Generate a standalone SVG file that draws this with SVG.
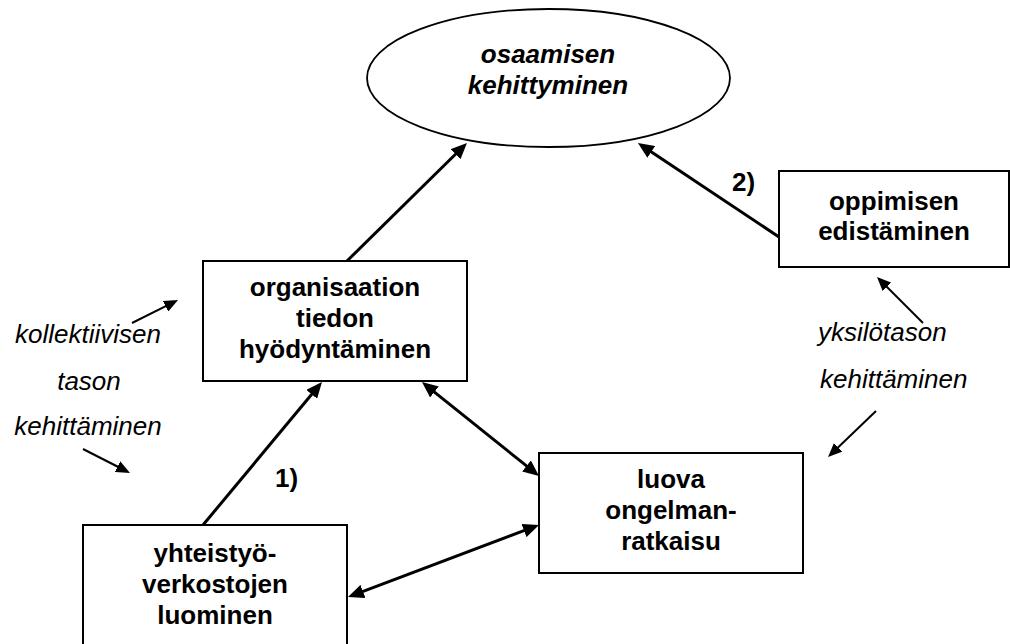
<svg xmlns="http://www.w3.org/2000/svg" width="1010" height="644" viewBox="0 0 1010 644">
  <defs>
    <style>
      .box { fill: #ffffff; stroke: #000000; stroke-width: 2; }
      .oval { fill: #ffffff; stroke: #000000; stroke-width: 1.8; }
      .lbl { font-family: "Liberation Sans", Arial, sans-serif; font-size: 26px; font-weight: bold; fill: #000000; text-anchor: middle; }
      .oval-lbl { font-style: italic; }
      .note { font-family: "Liberation Sans", Arial, sans-serif; font-size: 26px; font-style: italic; fill: #000000; }
      .num { font-family: "Liberation Sans", Arial, sans-serif; font-size: 26px; font-weight: bold; fill: #000000; }
      .link { fill: none; stroke: #000000; stroke-width: 3; stroke-linecap: butt; }
      .hint { fill: none; stroke: #000000; stroke-width: 2; stroke-linecap: butt; }
    </style>
    <marker id="head" viewBox="0 0 16 14" markerWidth="16" markerHeight="14" refX="2" refY="7" markerUnits="userSpaceOnUse" orient="auto-start-reverse">
      <path d="M0,0 L16,7 L0,14 z" fill="#000000"/>
    </marker>
    <marker id="head-s" viewBox="0 0 14 12" markerWidth="14" markerHeight="12" refX="2" refY="6" markerUnits="userSpaceOnUse" orient="auto">
      <path d="M0,0 L14,6 L0,12 z" fill="#000000"/>
    </marker>
  </defs>

  <rect width="1010" height="644" fill="#ffffff"/>

  <!-- connectors -->
  <g id="connectors">
    <line class="link" x1="347" y1="261" x2="457" y2="152.8" marker-end="url(#head)"/>
    <line class="link" x1="779" y1="237" x2="649.6" y2="150.8" marker-end="url(#head)"/>
    <line class="link" x1="203" y1="525" x2="313" y2="392.8" marker-end="url(#head)"/>
    <line class="link" x1="432.9" y1="390.8" x2="528.1" y2="467.2" marker-start="url(#head)" marker-end="url(#head)"/>
    <line class="link" x1="361.1" y1="592.1" x2="525.9" y2="529.9" marker-start="url(#head)" marker-end="url(#head)"/>
    <!-- pointers from the side notes -->
    <line class="hint" x1="132" y1="323" x2="167.3" y2="305.4" marker-end="url(#head-s)"/>
    <line class="hint" x1="83" y1="449" x2="119.3" y2="467.5" marker-end="url(#head-s)"/>
    <line class="hint" x1="923" y1="323" x2="885.5" y2="285.5" marker-end="url(#head-s)"/>
    <line class="hint" x1="876" y1="411" x2="836.7" y2="448.7" marker-end="url(#head-s)"/>
    <text class="num" x="275" y="487">1)</text>
    <text class="num" x="732" y="191">2)</text>
  </g>

  <g id="osaaminen">
    <ellipse class="oval" cx="548.5" cy="78" rx="181.5" ry="69"/>
    <text class="lbl oval-lbl" x="548" y="63">osaamisen</text>
    <text class="lbl oval-lbl" x="548" y="94">kehittyminen</text>
  </g>

  <g id="organisaatio">
    <rect class="box" x="203" y="261" width="264" height="120"/>
    <text class="lbl" x="335" y="296">organisaation</text>
    <text class="lbl" x="335" y="327">tiedon</text>
    <text class="lbl" x="335" y="358">hyödyntäminen</text>
  </g>

  <g id="oppiminen">
    <rect class="box" x="779" y="171" width="230" height="96"/>
    <text class="lbl" x="894" y="210">oppimisen</text>
    <text class="lbl" x="894" y="240">edistäminen</text>
  </g>

  <g id="ongelmanratkaisu">
    <rect class="box" x="539" y="453" width="264" height="120"/>
    <text class="lbl" x="671" y="488">luova</text>
    <text class="lbl" x="671" y="519">ongelman-</text>
    <text class="lbl" x="671" y="550">ratkaisu</text>
  </g>

  <g id="yhteistyo">
    <rect class="box" x="83" y="525" width="264" height="130"/>
    <text class="lbl" x="215" y="562">yhteistyö-</text>
    <text class="lbl" x="215" y="593">verkostojen</text>
    <text class="lbl" x="215" y="624">luominen</text>
  </g>

  <g id="kollektiivinen">
    <text class="note" x="88" y="343" text-anchor="middle">kollektiivisen</text>
    <text class="note" x="89" y="390" text-anchor="middle">tason</text>
    <text class="note" x="88" y="435" text-anchor="middle">kehittäminen</text>
  </g>

  <g id="yksilotaso">
    <text class="note" x="818" y="341">yksilötason</text>
    <text class="note" x="820" y="388">kehittäminen</text>
  </g>
</svg>
